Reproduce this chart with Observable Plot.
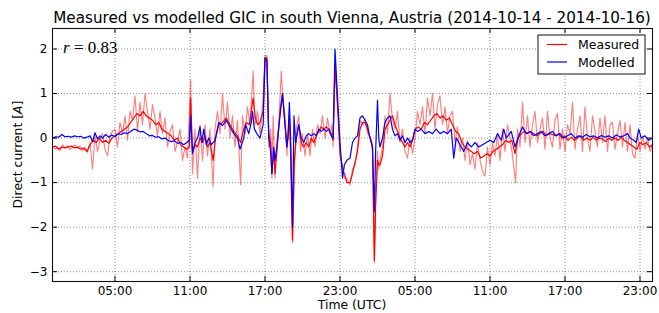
<!DOCTYPE html>
<html><head><meta charset="utf-8">
<script src="https://cdn.jsdelivr.net/npm/d3@7"></script>
<script src="https://cdn.jsdelivr.net/npm/@observablehq/plot@0.6"></script>
<style>
body{margin:0;background:#fff;}
#chart{width:659px;height:313px;}
</style></head>
<body><div id="chart"></div>
<script>
// hours since 2014-10-14 00:00 UTC, value in A
const measuredRaw = [
[0.0,-0.18],[0.2,-0.25],[0.4,-0.2],[0.6,-0.28],[0.8,-0.15],
[1.0,-0.22],[1.2,-0.17],[1.4,-0.26],[1.6,-0.2],[1.8,-0.15],
[2.0,-0.24],[2.2,-0.18],[2.4,-0.28],[2.6,-0.22],[2.8,-0.32],
[3.0,-0.1],[3.2,-0.7],[3.4,0.05],[3.6,-0.3],[3.8,-0.05],
[4.0,0.1],[4.2,-0.25],[4.4,-0.4],[4.6,0.05],[4.8,0.15],
[5.0,0.2],[5.2,-0.2],[5.4,0.35],[5.6,0.1],[5.8,0.5],
[6.0,-0.05],[6.2,0.6],[6.4,0.4],[6.6,0.95],[6.8,0.15],
[7.0,0.8],[7.2,0.3],[7.4,1.0],[7.6,0.6],[7.8,0.2],
[8.0,0.75],[8.2,0.45],[8.4,0.05],[8.6,0.6],[8.8,0.1],
[9.0,0.45],[9.2,-0.2],[9.4,0.15],[9.6,0.3],[9.8,-0.3],
[10.0,-0.1],[10.2,0.2],[10.4,-0.5],[10.6,-0.2],[10.8,-0.45],
[11.05,1.3],[11.2,-0.8],[11.4,0.2],[11.6,-0.9],[11.8,0.3],
[12.0,-0.5],[12.2,0.3],[12.4,-0.4],[12.6,0.2],[12.85,-1.1],
[13.0,0.2],[13.2,0.6],[13.4,0.1],[13.6,1.0],[13.8,0.2],
[14.0,0.8],[14.2,0.0],[14.4,0.5],[14.6,-0.2],[14.8,0.4],
[15.05,-1.05],[15.2,0.5],[15.4,0.1],[15.6,0.7],[15.8,0.3],
[15.95,1.0],[16.05,1.5],[16.2,0.3],[16.4,0.6],[16.6,0.1],[16.85,0.9],
[17.0,1.85],[17.15,1.85],[17.3,-0.2],[17.45,0.2],[17.55,-0.9],[17.65,0.5],[17.8,-0.9],[17.95,-0.1],
[18.1,0.3],[18.3,1.5],[18.45,0.8],[18.6,0.5],[18.75,-0.4],[18.85,0.2],[18.95,0.4],[19.05,-0.5],
[19.2,-2.35],[19.35,-0.7],[19.5,0.2],[19.7,0.5],[19.85,-0.3],
[20.0,0.1],[20.2,-0.4],[20.4,0.1],[20.6,-0.4],[20.8,0.2],
[21.0,-0.2],[21.2,0.3],[21.4,0.1],[21.6,0.5],[21.8,0.0],
[22.0,0.45],[22.2,0.1],[22.35,0.3],[22.45,-0.2],[22.6,1.7],[22.75,0.9],[22.9,0.4],
[23.0,-0.4],[23.2,-0.6],[23.35,-0.9],[23.55,-0.9],[23.8,-1.05],
[24.0,-0.7],[24.2,-0.6],[24.4,-0.2],[24.6,0.4],[24.8,0.3],
[25.0,0.45],[25.2,0.1],[25.35,0.1],[25.5,-0.1],[25.6,-0.3],[25.75,-2.8],[25.85,-1.3],
[26.0,-0.3],[26.1,-0.7],[26.2,-0.5],[26.4,-0.2],[26.6,0.5],[26.8,0.1],
[27.0,1.0],[27.2,0.4],[27.4,0.2],[27.6,0.6],[27.8,-0.1],
[28.0,0.2],[28.2,-0.3],[28.4,-0.45],[28.6,0.0],[28.8,-0.35],
[29.0,0.0],[29.2,0.6],[29.4,0.3],[29.6,0.7],[29.8,0.1],
[30.0,0.9],[30.2,0.5],[30.4,1.0],[30.6,0.2],[30.8,0.75],
[31.0,0.95],[31.2,0.3],[31.4,0.7],[31.6,0.1],[31.8,0.5],
[32.0,0.6],[32.2,-0.1],[32.4,0.25],[32.6,-0.3],[32.8,0.0],
[33.0,-0.5],[33.2,-0.05],[33.4,-0.6],[33.6,-0.35],[33.8,-0.7],
[34.0,-0.1],[34.2,-0.5],[34.4,-0.75],[34.6,-0.85],[34.8,-0.2],
[35.0,-0.6],[35.2,-0.1],[35.4,-0.4],[35.6,0.1],[35.8,-0.5],
[36.0,0.2],[36.2,-0.3],[36.4,0.3],[36.6,0.0],[36.8,-0.4],
[37.05,-1.0],[37.2,0.2],[37.4,-0.2],[37.6,0.8],[37.8,-0.1],
[38.0,0.5],[38.2,-0.2],[38.4,0.3],[38.6,0.6],[38.8,-0.1],
[39.0,0.2],[39.2,0.45],[39.4,-0.25],[39.6,0.6],[39.8,0.0],
[40.0,-0.2],[40.2,0.4],[40.4,0.55],[40.6,-0.25],[40.8,0.2],
[41.0,-0.3],[41.2,0.3],[41.4,0.1],[41.6,0.8],[41.8,-0.25],
[42.0,0.2],[42.2,0.5],[42.4,-0.3],[42.6,0.7],[42.8,0.0],
[43.0,-0.3],[43.2,0.5],[43.4,0.15],[43.6,-0.2],[43.8,0.45],
[44.0,-0.1],[44.2,0.5],[44.4,-0.3],[44.6,0.3],[44.8,0.35],
[45.0,-0.25],[45.2,0.1],[45.4,0.4],[45.6,-0.2],[45.8,0.35],
[46.0,-0.3],[46.2,0.3],[46.4,-0.35],[46.6,-0.45],[46.8,0.1],
[47.0,-0.3],[47.2,0.05],[47.4,-0.25],[47.6,0.0],[47.8,-0.3],[48.0,-0.15]
];

const measured = [
[0,-0.2],[0.25,-0.18],[0.5,-0.25],[0.75,-0.2],[1.0,-0.22],[1.25,-0.2],[1.5,-0.18],[1.75,-0.22],[2.0,-0.2],[2.25,-0.25],[2.5,-0.22],[2.75,-0.3],
[3.0,-0.15],[3.25,-0.05],[3.5,-0.1],[3.75,0.0],[4.0,-0.1],[4.25,-0.05],[4.5,-0.12],[4.75,0.0],[5.0,0.05],[5.25,0.1],[5.5,0.15],[5.75,0.2],
[6.0,0.25],[6.25,0.35],[6.5,0.45],[6.75,0.55],[7.0,0.5],[7.25,0.6],[7.5,0.5],[7.75,0.45],[8.0,0.4],[8.25,0.3],[8.5,0.35],[8.75,0.2],
[9.0,0.15],[9.25,0.1],[9.5,0.05],[9.75,-0.05],[10.0,0.0],[10.25,-0.15],[10.5,-0.2],[10.75,-0.25],[10.95,-0.2],[11.05,0.9],[11.2,-0.3],
[11.4,-0.15],[11.6,-0.2],[11.8,0.0],[12.0,-0.1],[12.2,0.05],[12.4,-0.2],[12.6,-0.1],[12.85,-0.5],[13.05,0.0],[13.3,0.3],[13.6,0.35],
[13.9,0.45],[14.2,0.3],[14.5,0.15],[14.8,0.05],[15.05,-0.1],[15.3,0.2],[15.5,0.35],[15.75,0.3],[15.9,0.6],[16.05,0.9],[16.2,0.5],
[16.4,0.3],[16.6,0.35],[16.85,0.6],[17.0,1.8],[17.15,1.8],[17.3,0.1],[17.45,-0.1],[17.55,-0.8],[17.7,-0.3],[17.8,-0.8],[17.95,-0.3],
[18.2,0.6],[18.4,1.0],[18.6,0.3],[18.75,-0.2],[18.85,0.0],[18.95,0.5],[19.05,-0.2],[19.2,-2.3],[19.35,-0.5],[19.5,0.0],[19.7,0.3],
[19.9,-0.1],[20.1,-0.2],[20.3,-0.1],[20.5,-0.2],[20.7,0.0],[20.9,-0.1],[21.1,0.05],[21.3,0.15],[21.5,0.25],[21.7,0.2],[21.9,0.25],
[22.1,0.2],[22.3,0.1],[22.45,-0.05],[22.6,1.6],[22.75,1.0],[22.9,0.2],[23.0,-0.3],[23.2,-0.7],[23.35,-0.8],[23.55,-1.0],[23.8,-1.0],
[24.0,-0.8],[24.2,-0.55],[24.4,-0.3],[24.6,0.2],[24.8,0.35],[25.0,0.35],[25.2,0.2],[25.35,0.05],[25.5,-0.05],[25.6,-0.2],[25.75,-2.75],
[25.85,-1.5],[26.0,-0.5],[26.1,-0.6],[26.2,-0.6],[26.4,-0.4],[26.6,0.2],[26.8,0.3],[27.0,0.4],[27.2,0.5],[27.4,0.3],[27.6,0.15],
[27.8,0.0],[28.0,-0.1],[28.2,-0.2],[28.4,-0.1],[28.6,-0.2],[28.8,-0.05],[29.0,0.2],[29.25,0.25],[29.5,0.2],[29.75,0.35],[30.0,0.3],
[30.25,0.4],[30.5,0.5],[30.75,0.55],[31.0,0.45],[31.25,0.5],[31.5,0.4],[31.75,0.45],[32.0,0.3],[32.25,0.15],[32.5,0.1],[32.75,-0.1],
[33.0,-0.2],[33.25,-0.25],[33.5,-0.3],[33.75,-0.35],[34.0,-0.3],[34.25,-0.45],[34.5,-0.4],[34.75,-0.35],[35.0,-0.4],[35.25,-0.3],
[35.5,-0.25],[35.75,-0.2],[36.0,-0.15],[36.25,-0.05],[36.5,-0.1],[36.75,-0.05],[37.0,-0.35],[37.25,0.0],[37.5,0.1],[37.75,0.15],
[38.0,0.1],[38.25,0.15],[38.5,0.1],[38.75,0.05],[39.0,0.1],[39.25,0.15],[39.5,0.05],[39.75,0.1],[40.0,0.08],[40.25,0.05],[40.5,0.1],
[40.75,0.0],[41.0,0.05],[41.25,-0.05],[41.5,0.02],[41.75,-0.05],[42.0,0.0],[42.25,0.05],[42.5,-0.05],[42.75,0.0],[43.0,-0.05],
[43.25,0.02],[43.5,-0.05],[43.75,0.0],[44.0,-0.02],[44.25,-0.08],[44.5,0.0],[44.75,-0.05],[45.0,0.0],[45.25,-0.05],[45.5,0.02],
[45.75,-0.05],[46.0,-0.1],[46.25,-0.15],[46.5,-0.2],[46.75,-0.25],[47.0,-0.1],[47.25,-0.15],[47.5,-0.1],[47.75,-0.2],[48.0,-0.15]
];

const modelled = [
[0,0.0],[0.25,0.03],[0.5,0.02],[0.75,0.08],[1.0,0.03],[1.25,0.04],[1.5,0.02],[1.75,0.05],[2.0,0.03],[2.25,0.04],[2.5,0.0],[2.75,0.02],
[3.0,0.05],[3.2,-0.08],[3.4,0.12],[3.6,-0.02],[3.8,0.05],[4.0,0.0],[4.25,0.08],[4.5,0.02],[4.75,0.07],[5.0,0.03],[5.25,0.1],[5.5,0.08],
[5.75,0.12],[6.0,0.1],[6.25,0.15],[6.5,0.2],[6.75,0.18],[7.0,0.14],[7.25,0.15],[7.5,0.1],[7.75,0.05],[8.0,0.06],[8.25,0.02],[8.5,0.03],
[8.75,-0.02],[9.0,0.0],[9.25,-0.05],[9.5,-0.08],[9.75,-0.06],[10.0,-0.12],[10.25,-0.1],[10.5,-0.15],[10.75,-0.1],[10.95,-0.05],
[11.05,0.5],[11.2,-0.35],[11.4,-0.1],[11.6,0.0],[11.8,0.25],[11.95,-0.1],[12.1,0.2],[12.3,-0.15],[12.5,0.0],[12.7,-0.15],[13.0,-0.05],
[13.3,0.35],[13.6,0.28],[13.9,0.4],[14.2,0.25],[14.5,0.1],[14.8,0.0],[15.0,-0.25],[15.3,0.0],[15.45,0.3],[15.7,0.1],[15.9,0.35],
[16.0,0.6],[16.15,0.2],[16.35,0.1],[16.6,0.0],[16.85,0.3],[17.0,1.8],[17.15,1.75],[17.3,0.0],[17.45,-0.3],[17.55,-0.8],[17.7,-0.2],
[17.8,-0.5],[17.95,-0.2],[18.2,0.5],[18.4,1.0],[18.6,0.3],[18.75,-0.2],[18.85,0.1],[18.95,0.8],[19.05,0.0],[19.2,-2.0],[19.32,0.5],
[19.45,-0.1],[19.7,0.3],[19.9,0.0],[20.1,-0.1],[20.3,0.05],[20.5,0.1],[20.7,0.05],[20.9,0.1],[21.1,0.05],[21.3,0.2],[21.5,0.15],
[21.7,0.2],[21.9,0.15],[22.1,0.2],[22.3,0.05],[22.45,0.0],[22.6,2.0],[22.75,1.2],[22.9,0.4],[23.0,-0.1],[23.2,-0.9],[23.35,-0.6],
[23.55,-0.5],[23.8,-0.45],[24.0,-0.1],[24.2,0.0],[24.4,0.05],[24.6,0.45],[24.8,0.5],[25.0,0.4],[25.2,0.3],[25.35,0.05],[25.5,-0.1],
[25.6,-0.2],[25.75,-1.65],[25.85,-0.3],[26.0,0.85],[26.1,0.0],[26.2,-0.2],[26.4,0.0],[26.6,0.35],[26.8,0.45],[27.0,0.5],[27.2,0.2],
[27.4,0.05],[27.6,0.1],[27.8,-0.05],[28.0,0.05],[28.2,-0.1],[28.4,0.0],[28.6,-0.1],[28.8,-0.05],[29.0,0.2],[29.2,0.15],[29.5,0.2],
[29.8,0.1],[30.1,0.15],[30.4,0.1],[30.7,0.2],[31.0,0.1],[31.3,0.15],[31.6,0.1],[31.9,0.2],[32.1,-0.45],[32.3,0.0],[32.6,-0.15],
[32.9,-0.3],[33.2,-0.1],[33.5,-0.2],[33.8,-0.1],[34.1,-0.2],[34.4,-0.15],[34.7,-0.1],[35.0,-0.05],[35.3,-0.1],[35.6,0.1],[35.9,-0.05],
[36.1,0.2],[36.3,0.0],[36.7,0.15],[37.0,-0.2],[37.3,0.05],[37.6,0.25],[37.9,0.1],[38.2,0.15],[38.5,0.05],[38.8,0.1],[39.1,0.15],
[39.4,0.05],[39.7,0.1],[40.0,0.15],[40.3,0.05],[40.6,0.1],[40.9,0.0],[41.2,0.05],[41.5,0.1],[41.8,0.0],[42.1,0.05],[42.4,0.02],
[42.7,0.08],[43.0,0.03],[43.3,0.05],[43.6,0.0],[43.9,0.06],[44.2,0.02],[44.5,0.05],[44.8,0.0],[45.1,0.07],[45.4,0.03],[45.7,0.05],
[46.0,0.1],[46.2,0.0],[46.5,-0.05],[46.7,-0.1],[46.9,0.2],[47.1,0.0],[47.4,0.05],[47.7,-0.05],[48.0,0.0]
];

const xTickHours = [5, 11, 17, 23, 29, 35, 41, 47];
const yTicks = [-3, -2, -1, 0, 1, 2];
const yDomain = [-3.22, 2.46];
const seriesNames = ["Measured", "Modelled"];
const correlation = "0.83";
const titleText = "Measured vs modelled GIC in south Vienna, Austria (2014-10-14 - 2014-10-16)";

const base = Date.UTC(2014, 9, 14, 0, 0, 0);
const toDate = h => new Date(base + h * 3600e3);
const conv = arr => arr.map(([h, v]) => ({t: toDate(h), v}));
const rawData = conv(measuredRaw), measData = conv(measured), modData = conv(modelled);
const xTicks = xTickHours.map(toDate);

const W = 659, H = 313, mT = 28, mB = 32, mL = 52, mR = 7;
const pw = W - mL - mR, ph = H - mT - mB;
const fmt = d3.utcFormat("%H:%M");

const svg = Plot.plot({
  width: W, height: H,
  marginTop: mT, marginBottom: mB, marginLeft: mL, marginRight: mR,
  style: {fontFamily: "DejaVu Sans", fontSize: "12px", color: "#000", background: "#fff"},
  x: {type: "utc", domain: [toDate(0), toDate(48)], ticks: xTicks, tickFormat: fmt, tickSize: 0, tickPadding: 5, label: null},
  y: {domain: yDomain, ticks: yTicks, tickFormat: d3.format("d"), tickSize: 0, tickPadding: 5, label: null},
  marks: [
    Plot.gridX(xTicks, {stroke: "#000", strokeOpacity: 0.55, strokeDasharray: "1,2", strokeWidth: 0.8}),
    Plot.gridY(yTicks, {stroke: "#000", strokeOpacity: 0.55, strokeDasharray: "1,2", strokeWidth: 0.8}),
    Plot.line(rawData, {x: "t", y: "v", stroke: "#ff0000", strokeOpacity: 0.5, strokeWidth: 1.15}),
    Plot.line(measData, {x: "t", y: "v", stroke: "#ff0000", strokeWidth: 1.2}),
    Plot.line(modData, {x: "t", y: "v", stroke: "#0000ff", strokeWidth: 1.2}),
    Plot.tickX(xTicks, {x: d => d, insetTop: ph - 5, stroke: "#000"}),
    Plot.tickX(xTicks, {x: d => d, insetBottom: ph - 5, stroke: "#000"}),
    Plot.tickY(yTicks, {y: d => d, insetRight: pw - 5, stroke: "#000"}),
    Plot.tickY(yTicks, {y: d => d, insetLeft: pw - 5, stroke: "#000"}),
    Plot.frame({stroke: "#111", strokeWidth: 1.1})
  ]
});
document.getElementById("chart").appendChild(svg);

const s = d3.select(svg);
s.append("text").attr("x", mL + pw / 2).attr("y", 23).attr("text-anchor", "middle")
  .style("font-family", "DejaVu Sans").style("font-size", "15.2px").attr("fill", "#000").text(titleText);
s.append("text").attr("x", mL + pw / 2).attr("y", 309).attr("text-anchor", "middle")
  .style("font-family", "DejaVu Sans").style("font-size", "12.4px").attr("fill", "#000").text("Time (UTC)");
const yl = s.append("text").attr("transform", `translate(21.5,${mT + ph / 2}) rotate(-90)`).attr("text-anchor", "middle")
  .style("font-family", "DejaVu Sans").style("font-size", "12.4px").attr("fill", "#000");
yl.append("tspan").text("Direct current [");
yl.append("tspan").style("font-style", "italic").text("A");
yl.append("tspan").text("]");

const rt = s.append("text").attr("x", 63).attr("y", 53).attr("text-anchor", "start")
  .style("font-family", "Liberation Serif").style("font-size", "17px").attr("fill", "#000");
rt.append("tspan").style("font-style", "italic").text("r");
rt.append("tspan").text("\u2005=\u2005" + correlation);

// legend
const lg = s.append("g").attr("text-anchor", "start");
lg.append("rect").attr("x", 538).attr("y", 35).attr("width", 107).attr("height", 39).attr("fill", "#fff").attr("stroke", "#111").attr("stroke-width", 1);
const colors = ["#ff0000", "#0000ff"];
seriesNames.forEach((n, i) => {
  const yy = 44.5 + i * 17.5;
  lg.append("line").attr("x1", 547).attr("x2", 567).attr("y1", yy).attr("y2", yy).attr("stroke", colors[i]).attr("stroke-width", 1.2);
  lg.append("text").attr("x", 578).attr("y", yy + 4.5).attr("text-anchor", "start").style("font-family", "DejaVu Sans").style("font-size", "12.5px").attr("fill", "#000").text(n);
});
</script>
</body></html>
